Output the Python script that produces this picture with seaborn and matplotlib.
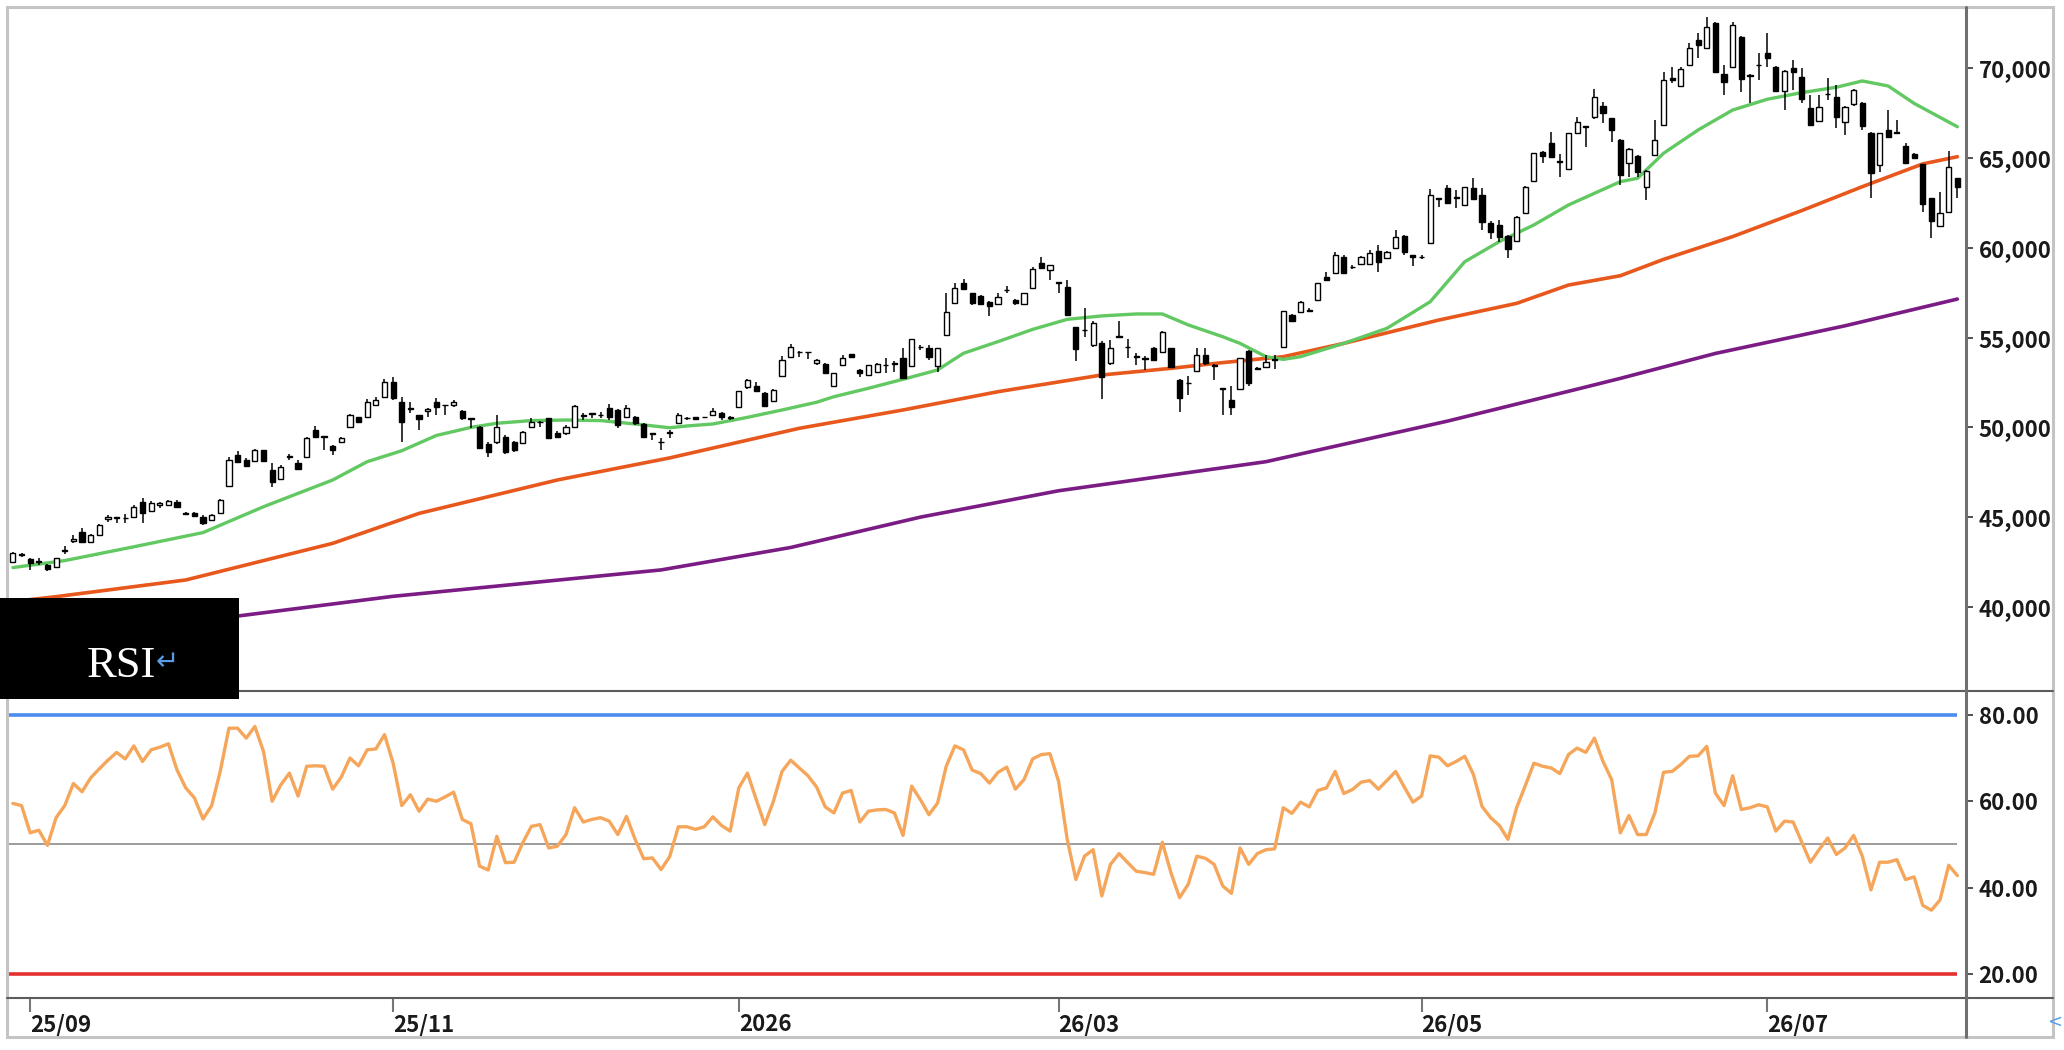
import numpy as np
import pandas as pd
import seaborn as sns
import matplotlib.pyplot as plt
from matplotlib.lines import Line2D
from matplotlib.patches import Rectangle

W, H = 2064, 1050

# Tokyo market holidays inside the window
jp_holidays = ["2025-09-15", "2025-09-23", "2025-10-13", "2025-11-03", "2025-11-24",
               "2025-12-31", "2026-01-01", "2026-01-02", "2026-01-12", "2026-02-11",
               "2026-02-23", "2026-03-20", "2026-04-29", "2026-05-04", "2026-05-05",
               "2026-05-06", "2026-07-20"]

# =====================
# Daily candles
# =====================
opens = [42520, 42900, 42650, 42550, 42330, 42250, 43100, 43650, 44190, 43640,
         44000, 44900, 45000, 44950, 45030, 45860, 45360, 45700, 45680, 45860,
         45250, 45250, 45025, 44840, 45210, 46736, 48460, 48185, 48150, 48740,
         47627, 47107, 48350, 48000, 48370, 49855, 49500, 48963, 49200, 50000,
         50560, 50560, 51250, 51710, 52550, 51430, 51100, 50690, 50900, 51430,
         51250, 51250, 50900, 50500, 50040, 49100, 49200, 49480, 49200, 49110,
         50040, 50320, 50500, 49670, 49670, 50040, 50690, 50780, 50700, 51060,
         50970, 50560, 50600, 50190, 49670, 49200, 49760, 50230, 50500, 50560,
         50580, 50690, 50820, 50600, 51150, 52270, 52300, 51930, 51490, 52860,
         53940, 54210, 54210, 53600, 53530, 52300, 53470, 54070, 53200, 52920,
         53100, 53500, 53570, 53850, 53420, 54500, 54400, 53420, 55150, 56950,
         58030, 57470, 57320, 57000, 56870, 57650, 57100, 56870, 57750, 59180,
         58770, 58100, 57840, 55570, 55430, 54590, 54720, 53570, 55100, 54500,
         53900, 53850, 54400, 54220, 54400, 52640, 52500, 53160, 54030, 53400,
         52170, 51520, 52120, 54270, 53300, 53350, 53800, 54500, 56260, 56420,
         56550, 57100, 58400, 58580, 59510, 58950, 59100, 59100, 59840, 59420,
         59970, 60660, 59600, 59500, 60250, 62760, 63320, 62850, 62390, 63320,
         62950, 61400, 61270, 60660, 60400, 61930, 63750, 65360, 65830, 64860,
         64420, 66420, 66790, 67270, 67900, 67220, 66010, 64710, 65120, 63410,
         65180, 66850, 69450, 69020, 70190, 71580, 71120, 72550, 69690, 70100,
         71770, 69650, 70190, 70840, 70100, 68760, 70000, 69500, 67780, 67090,
         68570, 68430, 67030, 68020, 68050, 66420, 64620, 66570, 66480, 65680,
         65230, 64680, 62760, 61220, 62020, 63880]

highs = [43050, 43000, 42700, 42700, 42400, 42750, 43400, 43980, 44400, 44050,
         44600, 45120, 45030, 45150, 45700, 46050, 45900, 45850, 45950, 45950,
         45300, 45300, 45100, 45200, 46000, 48350, 48700, 48300, 48800, 48760,
         48000, 47900, 48500, 48200, 49450, 50080, 49520, 49000, 49450, 50750,
         50600, 51600, 51700, 52700, 52790, 51700, 51430, 50700, 51100, 51660,
         51270, 51550, 50950, 50520, 50100, 49200, 50700, 49550, 49250, 49800,
         50500, 50330, 50550, 49800, 50150, 51250, 50800, 50790, 50850, 51300,
         51000, 51250, 50650, 50250, 49680, 49390, 49850, 50800, 50600, 50600,
         50600, 51060, 50850, 50650, 52050, 52700, 52550, 51950, 52150, 53980,
         54650, 54250, 54220, 53800, 53600, 53050, 54030, 54080, 53250, 53500,
         53600, 53850, 53700, 54400, 54950, 54600, 54600, 54450, 57470, 58060,
         58250, 57500, 57350, 57050, 57470, 57850, 57150, 57500, 58950, 59470,
         59050, 58120, 58200, 55600, 56630, 55900, 54800, 54870, 55900, 54900,
         54120, 54000, 54500, 55350, 54450, 52700, 52850, 54400, 54400, 53550,
         52200, 52300, 53850, 54300, 53350, 54030, 54030, 56500, 56300, 57050,
         56650, 58050, 58650, 59790, 59600, 59050, 59550, 59900, 60160, 59850,
         61000, 60700, 59620, 59600, 63300, 62780, 63500, 63230, 63400, 63870,
         63320, 61500, 61550, 60700, 61750, 63450, 65310, 65400, 66480, 65230,
         66420, 67270, 66800, 68830, 68150, 67250, 66050, 65550, 65150, 64350,
         67130, 69820, 70100, 70100, 71400, 71950, 72880, 72600, 70190, 72600,
         71800, 69700, 70840, 71990, 70150, 69900, 70470, 70000, 68500, 68520,
         69450, 69080, 67900, 68850, 68100, 66450, 66400, 67680, 67130, 65830,
         65300, 64700, 62800, 63130, 65420, 63900]

lows = [42450, 42780, 42050, 42350, 42000, 42200, 42950, 43550, 43600, 43600,
        43950, 44750, 44700, 44700, 44950, 44660, 45300, 45500, 45650, 45550,
        45150, 45000, 44560, 44800, 45200, 46700, 48000, 47800, 48100, 48100,
        46700, 47050, 48200, 47600, 48350, 49400, 48740, 48460, 49150, 49950,
        50300, 50500, 51200, 51650, 51500, 49200, 50800, 49850, 50600, 50690,
        50690, 51150, 50400, 49950, 48800, 48370, 49100, 48500, 48650, 49050,
        49950, 50040, 49350, 49400, 49600, 50000, 50400, 50500, 50550, 50400,
        49950, 50500, 50130, 49450, 49300, 48740, 49400, 50200, 50400, 50450,
        50500, 50650, 50400, 50400, 51100, 52140, 52000, 51150, 51450, 52800,
        53900, 53940, 53800, 53450, 53000, 52250, 53400, 53900, 52790, 52900,
        53050, 53050, 53100, 52700, 53400, 54300, 53750, 53100, 55100, 56900,
        57650, 56820, 56850, 56200, 56850, 57500, 56820, 56850, 57700, 58800,
        58210, 57470, 56200, 53720, 55050, 54500, 51570, 53500, 55000, 53850,
        53480, 53200, 53700, 54200, 53350, 50880, 51800, 53100, 53500, 52640,
        50690, 50690, 52100, 52300, 53200, 53300, 53230, 54450, 55900, 56400,
        56450, 57050, 58150, 58550, 58580, 58850, 59050, 59050, 58680, 59400,
        59950, 59600, 58990, 59400, 60200, 62260, 62500, 62200, 62350, 62700,
        61000, 60470, 60350, 59420, 60350, 61900, 63700, 64710, 65050, 63970,
        64400, 66400, 65640, 67200, 66940, 65920, 63500, 63970, 63970, 62670,
        65150, 66800, 69170, 69000, 70150, 70560, 71100, 69800, 68520, 70050,
        68700, 68060, 69350, 70100, 68700, 67680, 68800, 68060, 66800, 67050,
        68240, 66660, 66290, 67900, 66570, 62760, 64250, 66100, 66380, 64650,
        64950, 62020, 60530, 61200, 62000, 62760]

closes = [43000, 42920, 42450, 42500, 42100, 42700, 43150, 43800, 43640, 44000,
          44560, 45000, 44980, 44930, 45580, 45210, 45770, 45800, 45900, 45580,
          45200, 45060, 44690, 45120, 45950, 48185, 48092, 47850, 48740, 48150,
          46977, 47813, 48400, 47670, 49390, 49483, 49480, 48740, 49390, 50690,
          50320, 51430, 51530, 52550, 51620, 50320, 51000, 50450, 51000, 51150,
          51230, 51400, 50500, 50450, 48830, 48650, 50000, 48650, 48740, 49760,
          50320, 50310, 49390, 49450, 50040, 51190, 50620, 50770, 50680, 50600,
          50130, 51060, 50230, 49480, 49660, 49190, 49700, 50690, 50520, 50460,
          50560, 50900, 50560, 50550, 52040, 52640, 52050, 51190, 52080, 53750,
          54460, 54200, 54200, 53750, 53050, 53010, 53850, 53940, 53010, 53480,
          53510, 53480, 53550, 52730, 54900, 54500, 53940, 54400, 56450, 57750,
          57690, 56950, 56870, 56760, 57280, 57640, 56950, 57470, 58800, 58860,
          59050, 58050, 56260, 54350, 55400, 55800, 52830, 54400, 55050, 54480,
          54000, 53830, 53750, 55330, 53380, 51620, 52450, 54030, 53570, 53500,
          52150, 51150, 53850, 52490, 53250, 53660, 53750, 56480, 55950, 57000,
          56500, 58030, 58200, 59600, 58580, 58950, 59510, 59700, 59230, 59790,
          60620, 59790, 59500, 59510, 62950, 62750, 62520, 62800, 63370, 62700,
          61460, 60900, 60590, 59920, 61740, 63410, 65270, 65100, 65080, 64800,
          66380, 67030, 66750, 68420, 67500, 66570, 64060, 65490, 64250, 64300,
          66010, 69350, 69350, 69950, 71120, 71300, 72330, 69820, 69260, 72420,
          69390, 69600, 70200, 70560, 68760, 69860, 69820, 68280, 66850, 67830,
          68550, 67270, 67830, 68800, 66790, 64190, 66380, 66160, 66420, 64710,
          64990, 62450, 61520, 61960, 64490, 63380]

# Moving averages, sampled along the lines (trading day number, value)
ma_short_day = [1, 7, 15, 23, 30, 38, 42, 46, 50, 54, 57, 61, 65, 69, 73, 77, 79, 82,
                86, 90, 94, 96, 100, 104, 108, 111, 115, 119, 123, 127, 131, 134, 137,
                141, 143, 146, 148, 150, 155, 160, 165, 169, 173, 177, 181, 187, 189,
                192, 196, 200, 204, 208, 212, 215, 218, 221, 226]
ma_short = [42190, 42580, 43350, 44140, 45580, 47070, 48090, 48700, 49550, 50000, 50230,
            50380, 50410, 50380, 50190, 49980, 50080, 50190, 50560, 50970, 51400, 51710,
            52180, 52680, 53200, 54130, 54780, 55460, 56020, 56210, 56320, 56320, 55710,
            55050, 54680, 53940, 53790, 53940, 54680, 55520, 57000, 59230, 60350, 61280,
            62390, 63690, 63880, 65270, 66570, 67680, 68280, 68650, 68950, 69300, 69020,
            68050, 66750]

ma_mid_day = [1, 6, 21, 38, 48, 64, 77, 92, 104, 115, 127, 135, 141, 148, 155, 166,
              175, 181, 187, 192, 200, 208, 215, 222, 226]
ma_mid = [40300, 40570, 41500, 43540, 45210, 47070, 48300, 49950, 50970, 51990, 52920,
          53290, 53610, 53940, 54680, 55980, 56910, 57930, 58450, 59360, 60630, 62080,
          63410, 64680, 65080]

ma_long_day = [24, 27, 45, 76, 91, 106, 122, 146, 167, 182, 187, 198, 213, 226]
ma_long = [39300, 39490, 40590, 42060, 43310, 45000, 46470, 48090, 50350, 52130, 52730,
           54120, 55660, 57150]

rsi = [59.5, 59.0, 52.7, 53.3, 49.8, 56.2, 59.0, 64.1, 62.2, 65.4,
       67.5, 69.5, 71.3, 69.8, 72.8, 69.2, 71.9, 72.5, 73.3, 67.2,
       63.1, 60.8, 55.9, 59.0, 67.0, 76.9, 76.9, 74.6, 77.3, 71.5,
       60.0, 63.8, 66.5, 61.2, 68.1, 68.2, 68.1, 62.8, 65.6, 70.0,
       68.2, 71.9, 72.1, 75.4, 68.8, 59.0, 61.5, 57.7, 60.5, 60.0,
       61.0, 62.1, 55.8, 54.8, 45.0, 44.1, 51.9, 45.8, 45.9, 50.4,
       54.2, 54.6, 49.2, 49.6, 52.3, 58.5, 55.2, 55.8, 56.2, 55.4,
       52.3, 56.5, 51.2, 46.7, 46.9, 44.2, 47.2, 54.1, 54.1, 53.5,
       54.1, 56.4, 54.4, 53.1, 63.1, 66.5, 60.5, 54.6, 60.0, 66.9,
       69.5, 67.7, 65.9, 63.3, 58.7, 57.3, 61.9, 62.5, 55.2, 57.7,
       58.0, 58.1, 57.3, 52.1, 63.5, 60.4, 56.9, 59.6, 68.1, 72.8,
       71.9, 67.2, 66.4, 64.2, 66.7, 67.9, 62.8, 65.0, 69.8, 70.8,
       71.0, 64.6, 51.2, 41.9, 47.3, 48.8, 38.1, 45.4, 47.9, 45.8,
       43.8, 43.5, 43.1, 50.5, 43.5, 37.7, 40.8, 47.3, 46.8, 45.4,
       40.4, 38.7, 49.2, 45.4, 47.9, 48.8, 49.0, 58.5, 57.2, 59.8,
       58.7, 62.5, 63.1, 66.9, 61.8, 62.7, 64.4, 64.8, 62.8, 64.8,
       66.9, 63.3, 59.8, 61.2, 70.5, 70.2, 68.2, 69.2, 70.4, 66.2,
       58.8, 56.2, 54.4, 51.2, 58.5, 63.6, 68.8, 68.1, 67.7, 66.4,
       70.8, 72.3, 71.3, 74.6, 69.2, 65.0, 52.7, 56.7, 52.3, 52.3,
       57.3, 66.7, 66.9, 68.5, 70.4, 70.5, 72.7, 61.9, 59.0, 65.9,
       58.1, 58.5, 59.2, 58.7, 53.1, 55.4, 55.2, 50.5, 45.9, 48.8,
       51.5, 47.7, 49.2, 52.1, 47.3, 39.5, 45.9, 45.9, 46.5, 41.9,
       42.5, 35.9, 34.8, 37.2, 45.2, 42.8]

price_ticks = [40000, 45000, 50000, 55000, 60000, 65000, 70000]
rsi_ticks = [20, 40, 60, 80]

dates = pd.bdate_range("2025-08-28", periods=len(closes), freq="C", holidays=jp_holidays)

# =====================
# Layout helpers (pixel -> figure fraction)
# =====================
def fx(px):
    return px / W

def fy(py):
    return 1 - py / H

sns.set_style("white")
plt.rcParams["font.family"] = ["Noto Sans CJK JP", "DejaVu Sans"]

fig = plt.figure(figsize=(W / 100, H / 100), dpi=100)
ax1 = fig.add_axes([fx(9), fy(691), fx(1966) - fx(9), fy(7) - fy(691)])
ax2 = fig.add_axes([fx(9), fy(998), fx(1966) - fx(9), fy(691) - fy(998)], sharex=ax1)

x = np.arange(len(closes))
o, h, l, c = map(np.array, (opens, highs, lows, closes))
up = c >= o

# candles
ax1.vlines(x, l, h, color="black", lw=1.1, zorder=2)
ax1.bar(x[up], (c - o)[up], bottom=o[up], width=0.6, color="white",
        edgecolor="black", lw=1.0, zorder=3)
ax1.bar(x[~up], (o - c)[~up], bottom=c[~up], width=0.6, color="black",
        edgecolor="black", lw=1.0, zorder=3)

# moving averages
sns.lineplot(x=np.array(ma_long_day) - 1, y=ma_long, ax=ax1, color="#7a1c84", lw=2.6, zorder=1)
sns.lineplot(x=np.array(ma_mid_day) - 1, y=ma_mid, ax=ax1, color="#e8581c", lw=2.6, zorder=1)
sns.lineplot(x=np.array(ma_short_day) - 1, y=ma_short, ax=ax1, color="#62c862", lw=2.4, zorder=1)

# RSI panel
x_left = -0.45
ax2.hlines(80, x_left, x[-1], color="#4a8cf0", lw=2.6)
ax2.hlines(20, x_left, x[-1], color="#e63030", lw=2.6)
ax2.hlines(50, x_left, x[-1], color="#9c9c9c", lw=1.4)
sns.lineplot(x=x, y=rsi, ax=ax2, color="#f5a65a", lw=2.4)

ax1.set_xlim(x_left, 226.0)
ax1.set_ylim(35315, 73420)
ax2.set_ylim(14.5, 85.5)

for ax in (ax1, ax2):
    ax.set_xlabel("")
    ax.set_ylabel("")
    for s in ax.spines.values():
        s.set_visible(False)
    ax.yaxis.tick_right()

ax1.set_yticks(price_ticks)
ax1.set_yticklabels([f"{v:,}" for v in price_ticks])
ax2.set_yticks(rsi_ticks)
ax2.set_yticklabels([f"{v:.2f}" for v in rsi_ticks])
for ax in (ax1, ax2):
    ax.tick_params(axis="y", right=True, left=False, length=5, width=1.3,
                   color="#444444", labelsize=16, pad=4, labelcolor="#1a1a1a")
    for lbl in ax.get_yticklabels():
        lbl.set_fontweight("bold")

# month ticks: every other month, first trading day
first_of_month = ~dates.to_period("M").duplicated()
tick_pos = [i for i in np.flatnonzero(first_of_month) if dates[i].month % 2 == 1]
tick_lab = [dates[i].strftime("%Y") if dates[i].month == 1 else dates[i].strftime("%y/%m")
            for i in tick_pos]
ax1.tick_params(axis="x", bottom=False, labelbottom=False)
ax2.set_xticks(tick_pos)
ax2.set_xticklabels(tick_lab)
ax2.tick_params(axis="x", bottom=True, length=10, width=1.5, color="#777777",
                labelsize=16, pad=1, labelcolor="#1a1a1a")
for lbl in ax2.get_xticklabels():
    lbl.set_ha("left")
    lbl.set_fontweight("bold")

# frame and separators
fig.add_artist(Rectangle((fx(7), fy(1037)), fx(2053) - fx(7), fy(7) - fy(1037),
                         transform=fig.transFigure, fill=False, edgecolor="#c4c4c4", lw=2.2))
for yy in (691, 998):
    fig.add_artist(Line2D([fx(7), fx(2053)], [fy(yy), fy(yy)], color="#5c5c5c", lw=1.5))
fig.add_artist(Line2D([fx(1966), fx(1966)], [fy(7), fy(1037)], color="#707070", lw=2.2))

# RSI caption box
fig.add_artist(Rectangle((0, fy(699)), fx(239), fy(598) - fy(699), transform=fig.transFigure,
                         facecolor="black", edgecolor="none", zorder=10))
fig.text(fx(87), fy(677), "RSI", color="white", fontsize=32, family="Liberation Serif",
         va="baseline", ha="left", zorder=11)
fig.text(fx(156), fy(662), "\u21b5", color="#5a9be6", fontsize=20, family="DejaVu Sans",
         va="center", ha="left", zorder=11)
fig.text(fx(2062), fy(1022), "<", color="#5a9be6", fontsize=13, family="DejaVu Sans",
         va="center", ha="right")

fig.savefig("out.png", dpi=100)
